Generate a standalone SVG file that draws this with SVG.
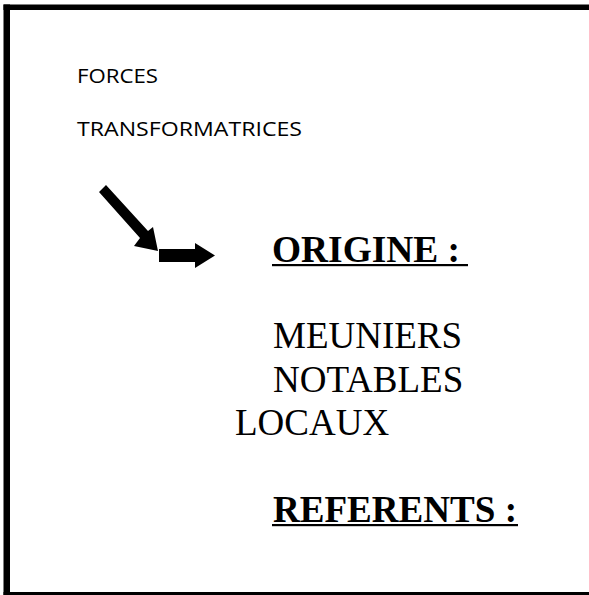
<svg xmlns="http://www.w3.org/2000/svg" width="589" height="595" viewBox="0 0 589 595">
<style>
.sans{font-family:"Open Sans","Liberation Sans",sans-serif;font-size:20px;fill:#000}
.serif{font-family:"Liberation Serif","Times New Roman",serif;font-size:37px;fill:#000}
.bold{font-weight:bold}
</style>
<rect x="0" y="0" width="589" height="595" fill="#fff"/>
<g id="frame" fill="#000">
<rect x="3.5" y="4.5" width="585.5" height="5.5"/>
<rect x="3.5" y="4.5" width="6.5" height="590.5"/>
<rect x="3.5" y="592" width="585.5" height="3"/>
</g>
<g id="forces">
<text class="sans" x="77" y="83" textLength="81" lengthAdjust="spacingAndGlyphs">FORCES</text>
<text class="sans" x="77" y="136" textLength="225" lengthAdjust="spacingAndGlyphs">TRANSFORMATRICES</text>
</g>
<g id="connectors">
<polygon points="99,192 106,185 148,231 153,227 158,251 134,246 140,238"/>
<polygon points="159,249 195,249 195,243 215,255.5 195,268 195,262 159,262"/>
</g>
<g id="origine">
<text class="serif bold" x="272" y="262" textLength="188" lengthAdjust="spacingAndGlyphs">ORIGINE :</text>
<rect x="272" y="264" width="196" height="2.2"/>
</g>
<g id="list">
<text class="serif" x="273" y="348">MEUNIERS</text>
<text class="serif" x="273" y="392">NOTABLES</text>
<text class="serif" x="235" y="435">LOCAUX</text>
</g>
<g id="referents">
<text class="serif bold" x="273" y="522" textLength="244" lengthAdjust="spacingAndGlyphs">REFERENTS :</text>
<rect x="272" y="524" width="246" height="2.2"/>
</g>
</svg>
